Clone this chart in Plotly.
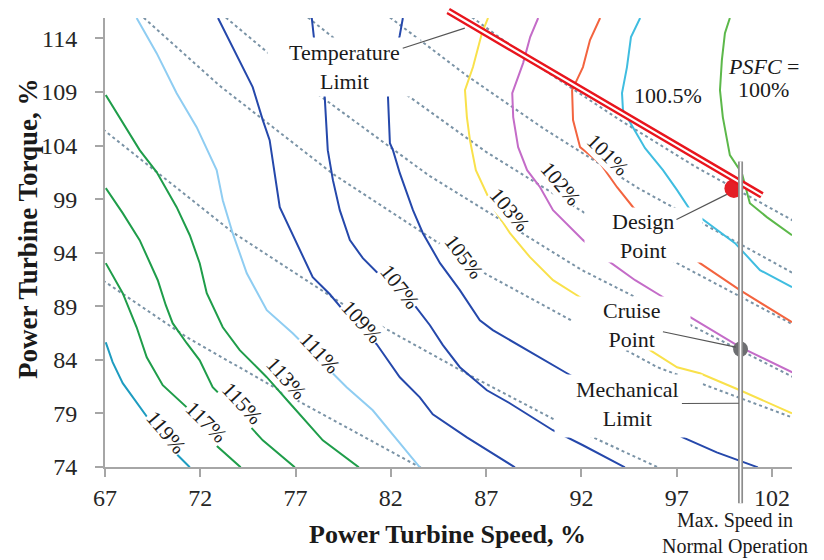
import plotly.graph_objects as go

# ---------------- axes ----------------
speed_range = [67, 103.05]
torque_range = [74, 115.9]
speed_ticks = [67, 72, 77, 82, 87, 92, 97, 102]
torque_ticks = [74, 79, 84, 89, 94, 99, 104, 109, 114]

# ---------------- PSFC contour lines (speed %, torque %) ----------------
c119_s = [67.04, 67.40, 67.93, 68.56, 69.19, 69.71, 70.40, 71.45]
c119_t = [85.64, 83.78, 81.82, 80.23, 78.64, 77.43, 75.84, 73.97]

c117_s = [67.04, 67.93, 68.66, 69.19, 70.03, 71.29, 72.65, 74.12]
c117_t = [93.02, 90.22, 87.04, 84.24, 81.63, 79.57, 76.31, 73.97]

c115_s = [67.04, 67.93, 68.82, 69.29, 69.77, 70.19, 70.55, 71.29, 71.97, 72.65, 73.70, 75.28, 76.96]
c115_t = [100.02, 97.69, 95.17, 93.30, 91.43, 89.10, 87.42, 85.55, 83.96, 81.44, 79.57, 76.49, 73.97]

c113_s = [67.04, 68.82, 69.71, 70.76, 71.45, 71.97, 72.34, 73.18, 74.07, 75.49, 76.70, 78.43, 80.32]
c113_t = [108.71, 103.57, 101.52, 98.25, 95.63, 93.02, 90.22, 87.04, 84.90, 82.38, 79.95, 76.49, 73.97]

c111_s = [68.66, 69.71, 70.76, 71.81, 72.86, 73.18, 73.70, 74.44, 75.49, 76.85, 78.27, 79.68, 81.05, 82.20, 83.52]
c111_t = [115.9, 112.62, 108.88, 105.71, 101.70, 98.90, 95.82, 92.08, 88.63, 86.48, 83.96, 81.44, 79.29, 76.77, 73.97]

c109_s = [72.93, 73.70, 74.75, 75.28, 75.64, 76.17, 77.22, 77.90, 78.80, 79.68, 81.26, 82.47, 83.52, 84.20, 85.99, 88.51]
c109_t = [115.9, 113.18, 109.45, 106.37, 104.50, 98.24, 94.23, 91.71, 90.12, 88.25, 85.45, 82.37, 80.50, 78.92, 76.77, 73.97]

c107_s = [77.85, 77.96, 78.53, 78.69, 78.96, 79.32, 79.85, 80.53, 81.42, 82.31, 83.16, 84.05, 84.73, 85.62, 87.04, 88.24, 90.50, 92.08, 94.28]
c107_t = [115.9, 114.12, 108.52, 103.57, 100.77, 97.97, 95.17, 93.49, 91.90, 90.78, 89.29, 87.23, 85.37, 83.31, 81.16, 79.95, 77.43, 76.03, 73.97]

c105_s = [82.63, 82.47, 82.05, 81.85, 81.95, 82.11, 82.47, 83.16, 83.68, 84.58, 85.62, 86.67, 87.35, 89.14, 91.24, 94.28, 97.32, 99.10, 101.26]
c105_t = [115.9, 114.30, 111.03, 108.52, 104.22, 103.57, 101.42, 97.97, 95.82, 93.02, 90.50, 87.70, 86.77, 84.90, 82.75, 79.76, 76.77, 75.37, 73.97]

c103_s = [87.10, 86.78, 86.31, 85.89, 85.99, 86.15, 86.46, 87.36, 88.25, 89.30, 90.51, 91.93, 93.76, 95.60, 97.02, 98.22, 100.32, 103.05]
c103_t = [115.9, 114.49, 111.32, 109.17, 106.65, 104.50, 101.70, 98.24, 95.82, 93.58, 91.43, 89.84, 87.70, 84.90, 83.31, 82.75, 81.16, 79.01]

c102_s = [89.73, 89.31, 88.94, 88.37, 88.42, 88.68, 89.15, 89.83, 90.51, 91.04, 92.09, 93.35, 94.82, 96.29, 97.71, 100.33, 103.06]
c102_t = [115.9, 114.12, 111.69, 108.89, 106.65, 103.85, 101.70, 100.11, 97.97, 97.03, 95.17, 93.30, 91.43, 89.84, 87.98, 85.18, 82.84]

c101_s = [92.98, 92.45, 92.08, 91.51, 91.56, 91.93, 92.98, 93.87, 94.71, 96.39, 98.22, 100.32, 103.05]
c101_t = [115.9, 113.84, 111.32, 109.17, 106.37, 103.85, 102.35, 100.11, 98.24, 95.63, 93.02, 90.50, 87.51]

c1005_s = [95.08, 94.60, 94.39, 94.13, 94.18, 94.71, 95.34, 96.28, 97.02, 97.71, 98.76, 100.06, 101.37, 103.05]
c1005_t = [115.9, 114.12, 111.32, 108.89, 107.30, 105.71, 103.75, 101.70, 99.84, 97.97, 96.57, 94.89, 92.37, 90.78]

c100_s = [99.79, 99.53, 99.37, 99.27, 99.42, 99.63, 99.79, 100.42, 100.84, 101.73, 103.05]
c100_t = [115.9, 114.49, 111.97, 109.17, 106.65, 104.50, 103.10, 101.42, 98.62, 97.32, 95.63]

# ---------------- constant-power dotted lines ----------------
p10000_s = [86.0, 90.0, 94.0, 98.0, 103.1]
p10000_t = [116.3, 111.1, 106.4, 102.0, 97.0]
p9500_s = [81.7, 86.0, 90.0, 95.0, 103.1]
p9500_t = [116.3, 110.5, 105.6, 100.0, 92.1]
p9000_s = [77.4, 82.0, 87.0, 93.0, 103.1]
p9000_t = [116.3, 109.8, 103.4, 96.8, 87.3]
p8500_s = [73.1, 78.0, 84.0, 92.0, 103.1]
p8500_t = [116.3, 109.0, 101.2, 92.4, 82.4]
p8000_s = [68.8, 73.0, 79.0, 87.0, 96.0, 103.1]
p8000_t = [116.3, 109.6, 101.3, 92.0, 83.3, 78.6]
p7100_s = [66.9, 73.7, 80.0, 86.2, 90.5, 94.0, 96.1]
p7100_t = [105.5, 95.9, 88.6, 82.5, 78.5, 75.6, 73.9]
p6150_s = [66.9, 71.3, 77.2, 83.6]
p6150_t = [91.4, 86.1, 80.1, 73.9]

# ---------------- contour labels ----------------
label_text = ["119%", "117%", "115%", "113%", "111%", "109%", "107%", "105%", "103%", "102%", "101%"]
label_s = [70.19, 72.30, 74.18, 76.49, 78.27, 80.48, 82.47, 85.83, 88.24, 90.92, 93.39]
label_t = [77.24, 78.17, 79.95, 82.28, 84.62, 87.51, 90.78, 93.58, 97.97, 100.40, 103.10]
label_angle = [50, 45, 47, 48, 47, 48, 52, 53, 50, 50, 45]

# ---------------- points / limits ----------------
design_s, design_t = [100.0], [100.0]
cruise_s, cruise_t = [100.35], [85.0]
temp_limit_s = [84.93, 101.47]
temp_limit_t = [116.63, 99.35]
max_speed_s = [100.35, 100.35]
max_speed_t = [102.64, 70.61]

SERIF = "Liberation Serif"
BLUE = "#2548ab"
GREEN = "#1f9d4a"

fig = go.Figure()

dotted = [(p10000_s, p10000_t), (p9500_s, p9500_t), (p9000_s, p9000_t), (p8500_s, p8500_t),
          (p8000_s, p8000_t), (p7100_s, p7100_t), (p6150_s, p6150_t)]
for s, t in dotted:
    fig.add_trace(go.Scatter(x=s, y=t, mode="lines",
                             line=dict(color="#7a93a6", width=2, dash="dot"),
                             hoverinfo="skip", showlegend=False))

contours = [
    (c119_s, c119_t, "#1e9cc0"),
    (c117_s, c117_t, GREEN),
    (c115_s, c115_t, GREEN),
    (c113_s, c113_t, GREEN),
    (c111_s, c111_t, "#8fcdf2"),
    (c109_s, c109_t, BLUE),
    (c107_s, c107_t, BLUE),
    (c105_s, c105_t, BLUE),
    (c103_s, c103_t, "#f9e14b"),
    (c102_s, c102_t, "#c46cc8"),
    (c101_s, c101_t, "#f3643f"),
    (c1005_s, c1005_t, "#3fbde0"),
    (c100_s, c100_t, "#5cb84a"),
]
for s, t, col in contours:
    fig.add_trace(go.Scatter(x=s, y=t, mode="lines", line=dict(color=col, width=2),
                             hoverinfo="skip", showlegend=False))

fig.add_trace(go.Scatter(x=design_s, y=design_t, mode="markers",
                         marker=dict(color="#e41e26", size=19), cliponaxis=False,
                         showlegend=False, hoverinfo="skip"))
fig.add_trace(go.Scatter(x=cruise_s, y=cruise_t, mode="markers",
                         marker=dict(color="#6d6e71", size=15), cliponaxis=False,
                         showlegend=False, hoverinfo="skip"))

ann = []
# contour labels (white background breaks the lines)
for txt, s, t, a in zip(label_text, label_s, label_t, label_angle):
    ann.append(dict(x=s, y=t, xref="x", yref="y", text=txt, showarrow=False,
                    textangle=a, bgcolor="white", borderpad=0,
                    font=dict(family=SERIF, size=21, color="#1a1a1a")))

def seg(s0, t0, s1, t1, color, width):
    return dict(x=s1, y=t1, ax=s0, ay=t0, xref="x", yref="y", axref="x", ayref="y",
                text="", showarrow=True, arrowhead=0, arrowwidth=width, arrowcolor=color,
                standoff=0, startstandoff=0)

# temperature limit double red line
ann.append(seg(temp_limit_s[0], temp_limit_t[0], temp_limit_s[1], temp_limit_t[1], "#e8151d", 7))
ann.append(seg(temp_limit_s[0], temp_limit_t[0], temp_limit_s[1], temp_limit_t[1], "white", 2.2))
# max speed double grey line
ann.append(seg(max_speed_s[0], max_speed_t[0], max_speed_s[1], max_speed_t[1], "#8c8c8c", 5))
ann.append(seg(max_speed_s[0], max_speed_t[0], max_speed_s[1], max_speed_t[1], "white", 1.6))

# callout label boxes: (text, box centre, box size, text centre, pointer tip)
callouts = [
    ("Temperature<br>Limit", (79.53, 111.32), (152, 58), (79.58, 111.32), (85.88, 114.95)),
    ("Design<br>Point", (95.26, 95.63), (117, 54), (95.23, 95.54), (99.63, 99.44)),
    ("Cruise<br>Point", (94.62, 87.37), (117, 53), (94.65, 87.23), (100.10, 85.18)),
    ("Mechanical<br>Limit", (94.46, 79.67), (147, 62), (94.44, 79.90), (100.26, 79.95)),
]
for txt, bc, bs, tc, tip in callouts:
    ann.append(dict(x=bc[0], y=bc[1], xref="x", yref="y", text=" ", showarrow=False,
                    width=bs[0], height=bs[1], bgcolor="white", borderpad=0,
                    font=dict(family=SERIF, size=4)))
    ann.append(dict(x=tip[0], y=tip[1], ax=tc[0], ay=tc[1], xref="x", yref="y",
                    axref="x", ayref="y", text=txt, showarrow=True, arrowhead=0,
                    arrowwidth=1.2, arrowcolor="#555555", standoff=0, borderpad=2,
                    font=dict(family=SERIF, size=22, color="#1a1a1a")))

ann.append(dict(x=96.54, y=108.69, xref="x", yref="y", text="100.5%", showarrow=False,
                font=dict(family=SERIF, size=22, color="#1a1a1a")))
ann.append(dict(x=101.58, y=111.4, xref="x", yref="y", text="<i>PSFC</i> =", showarrow=False,
                font=dict(family=SERIF, size=22, color="#1a1a1a")))
ann.append(dict(x=101.58, y=109.26, xref="x", yref="y", text="100%", showarrow=False,
                font=dict(family=SERIF, size=22, color="#1a1a1a")))
# below the axis: vertical position in paper units (outside the torque range)
ann.append(dict(x=100.05, y=-0.1492, xref="x", yref="paper", text="Max. Speed in<br>Normal Operation",
                showarrow=False, xanchor="center", yanchor="middle",
                font=dict(family=SERIF, size=20, color="#1a1a1a")))

# axis titles
ann.append(dict(x=0.4985, y=-0.1514, xref="paper", yref="paper", text="<b>Power Turbine Speed, %</b>",
                showarrow=False, xanchor="center", yanchor="middle",
                font=dict(family=SERIF, size=26, color="#1a1a1a")))
ann.append(dict(x=-0.112, y=0.530, xref="paper", yref="paper", text="<b>Power Turbine Torque, %</b>",
                showarrow=False, textangle=-90, xanchor="center", yanchor="middle",
                font=dict(family=SERIF, size=27, color="#1a1a1a")))

axis_common = dict(showgrid=False, zeroline=False, showline=True, linecolor="#a6a6a6",
                   linewidth=2, ticks="outside", ticklen=8, tickwidth=2, tickcolor="#a6a6a6",
                   tickfont=dict(family=SERIF, size=24, color="#262626"))

# the page body adds an 8 px margin, so the figure is 8 px smaller than the window
fig.update_layout(
    width=816, height=552,
    margin=dict(l=97, r=32, t=10, b=93, autoexpand=False),
    paper_bgcolor="white", plot_bgcolor="white",
    showlegend=False,
    xaxis=dict(range=speed_range, tickvals=speed_ticks, ticklabelstandoff=0, **axis_common),
    yaxis=dict(range=torque_range, tickvals=torque_ticks, ticklabelstandoff=13, **axis_common),
    annotations=ann,
)

fig.write_html("out.html")
